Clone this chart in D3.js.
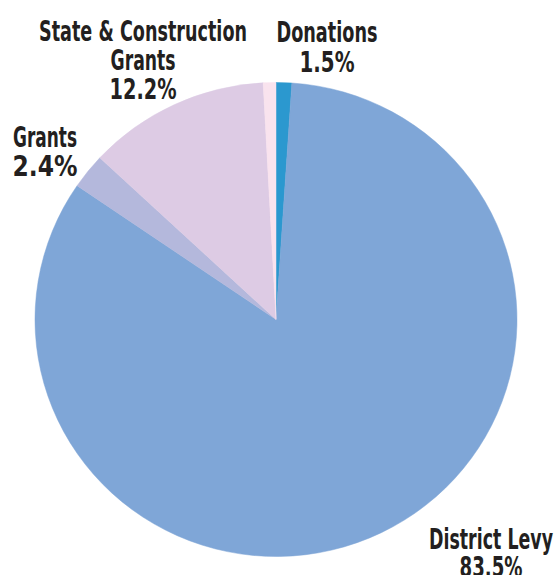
<!DOCTYPE html>
<html>
<head>
<meta charset="utf-8">
<script src="https://cdn.jsdelivr.net/npm/d3@7"></script>
<style>
  html, body { margin: 0; padding: 0; background: #fff; }
  svg { display: block; }
</style>
</head>
<body>
<div id="chart"></div>
<script>
// slices in drawing order, clockwise from 12 o'clock
const categories = ["Donations", "District Levy", "Grants", "State & Construction Grants", "Other"];
// shares as drawn (angles)
const shares = [1.05, 83.5, 2.4, 12.2, 0.85];
// printed percentages
const percentLabels = ["1.5%", "83.5%", "2.4%", "12.2%", ""];
// label text lines (before the percentage)
const labelLines = [["Donations"], ["District Levy"], ["Grants"], ["State & Construction", "Grants"], []];

const colors = ["#2b98cf", "#7fa6d7", "#b4b8dc", "#ddcbe4", "#f9e3ee"];

// label layout: center x, first baseline, line gap, widths of each line
const labelLayout = {
    "Donations": { x: 327, y: 42.3, gap: 29.4, widths: [101, 55] },
    "District Levy": { x: 491, y: 549.3, gap: 27.6, widths: [124, 63] },
    "Grants": { x: 45, y: 146.7, gap: 29, widths: [64, 65] },
    "State & Construction Grants": { x: 143, y: 40.5, gap: 29.2, widths: [208, 65, 67] }
};

const width = 554;
const height = 575;
const cx = 276;
const cy = 319.5;
const rx = 241;
const ry = 237;

const svg = d3.select("#chart")
    .append("svg")
    .attr("width", width)
    .attr("height", height);

const data = categories.map((c, i) => ({ name: c, value: shares[i], i }));

const pie = d3.pie()
    .sort(null)
    .value(d => d.value)
    .startAngle(0)
    .endAngle(Math.PI * 2);

const arc = d3.arc().innerRadius(0).outerRadius(rx);

const g = svg.append("g")
    .attr("transform", `translate(${cx},${cy}) scale(1,${ry / rx})`);

g.selectAll("path")
    .data(pie(data))
    .enter()
    .append("path")
    .attr("d", arc)
    .attr("fill", d => colors[d.data.i])
    .attr("stroke", d => colors[d.data.i])
    .attr("stroke-width", 0.5);

// labels
data.forEach((d, i) => {
    const pos = labelLayout[d.name];
    if (!pos) return;
    const lines = labelLines[i].concat(percentLabels[i] ? [percentLabels[i]] : []);
    lines.forEach((txt, k) => {
        svg.append("text")
            .attr("x", pos.x)
            .attr("y", pos.y + k * pos.gap)
            .attr("text-anchor", "middle")
            .attr("font-family", "'Liberation Sans Narrow', 'DejaVu Sans Condensed', 'Roboto Condensed', sans-serif")
            .attr("font-weight", "bold")
            .attr("font-size", "28px")
            .attr("fill", "#231f20")
            .attr("textLength", pos.widths[k])
            .attr("lengthAdjust", "spacingAndGlyphs")
            .text(txt);
    });
});
</script>
</body>
</html>
